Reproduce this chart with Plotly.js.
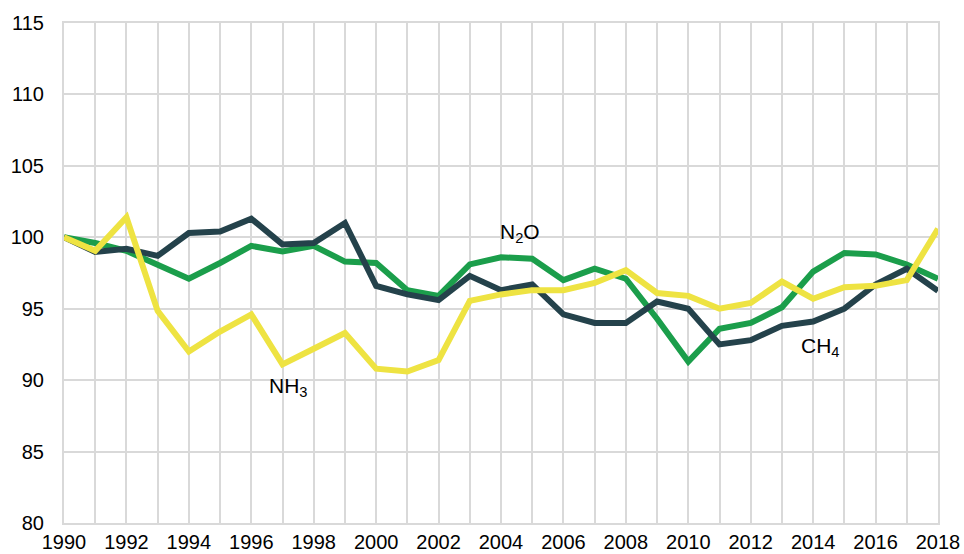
<!DOCTYPE html>
<html>
<head>
<meta charset="utf-8">
<script src="https://cdn.plot.ly/plotly-3.0.1.min.js"></script>
<style>html,body{margin:0;padding:0;background:#fff;}#chart{width:964px;height:554px;}</style>
</head>
<body>
<div id="chart"></div>
<script>
const years = [1990,1991,1992,1993,1994,1995,1996,1997,1998,1999,2000,2001,2002,2003,2004,2005,2006,2007,2008,2009,2010,2011,2012,2013,2014,2015,2016,2017,2018];
const ch4 = [100,98.97,99.2,98.7,100.3,100.4,101.3,99.5,99.6,101.0,96.6,96.0,95.6,97.3,96.3,96.7,94.6,94.0,94.0,95.5,95.0,92.5,92.8,93.8,94.1,95.0,96.7,97.8,96.25];
const n2o = [100,99.6,99.05,98.1,97.1,98.2,99.4,99.0,99.4,98.3,98.2,96.3,95.9,98.1,98.6,98.5,97.0,97.8,97.1,94.3,91.3,93.6,94.0,95.1,97.6,98.9,98.8,98.1,97.1];
const nh3 = [100,99.05,101.4,94.85,92.0,93.4,94.6,91.1,92.2,93.3,90.8,90.6,91.4,95.55,96.0,96.3,96.3,96.8,97.7,96.1,95.9,95.0,95.4,96.9,95.7,96.5,96.6,97.0,100.6];
const labels = [
  {text:'NH<sub>3</sub>', x:1997.2, y:89.5},
  {text:'N<sub>2</sub>O', x:2004.6, y:100.3},
  {text:'CH<sub>4</sub>', x:2014.25, y:92.3}
];
const font = {family:'Liberation Sans, Arial, sans-serif', size:20, color:'#000'};
const grid = '#d9d9d9';
const traces = [
  {x:years, y:n2o, mode:'lines', line:{color:'#1b9e4b', width:6}, name:'N2O'},
  {x:years, y:ch4, mode:'lines', line:{color:'#24424b', width:6}, name:'CH4'},
  {x:years, y:nh3, mode:'lines', line:{color:'#eee342', width:6}, name:'NH3'}
];
const layout = {
  width:964, height:554,
  margin:{l:64, r:26, t:23, b:31},
  paper_bgcolor:'#fff', plot_bgcolor:'#fff',
  showlegend:false,
  font:font,
  xaxis:{range:[1990,2018], tick0:1990, dtick:2, showgrid:true, gridcolor:grid, gridwidth:2,
    minor:{dtick:1, showgrid:true, gridcolor:grid, gridwidth:2},
    showline:true, linecolor:grid, linewidth:2, mirror:true, zeroline:false,
    ticks:'', tickfont:{family:font.family, size:20, color:'#000'}},
  yaxis:{range:[80,115], tick0:80, dtick:5, showgrid:true, gridcolor:grid, gridwidth:2,
    showline:true, linecolor:grid, linewidth:2, mirror:true, zeroline:false,
    ticks:'', ticklabelstandoff:14, tickfont:{family:font.family, size:20, color:'#000'}},
  annotations: labels.map(l => ({text:l.text, x:l.x, y:l.y, xref:'x', yref:'y', showarrow:false, font:{family:font.family, size:21, color:'#000'}}))
};
Plotly.newPlot('chart', traces, layout, {displayModeBar:false, staticPlot:true});
</script>
</body>
</html>
